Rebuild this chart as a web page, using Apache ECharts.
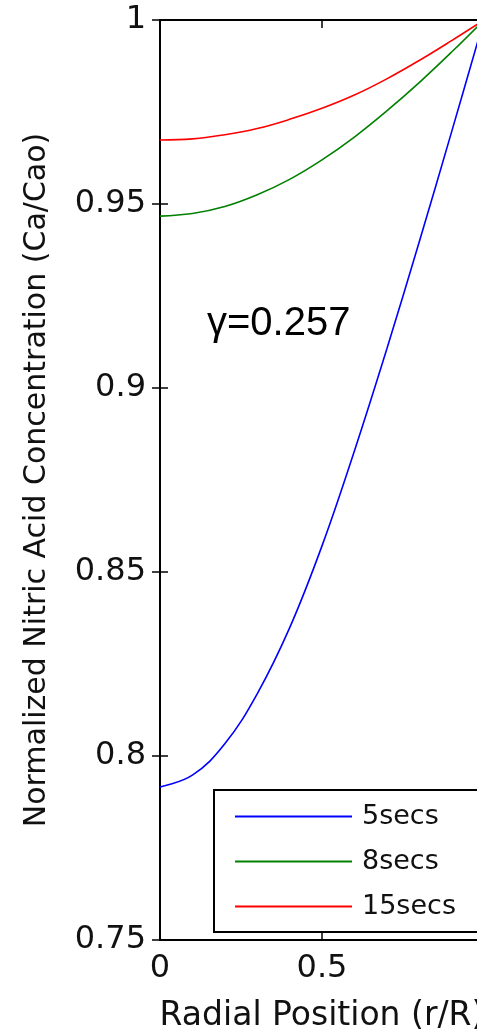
<!DOCTYPE html>
<html>
<head>
<meta charset="utf-8">
<script src="https://cdn.jsdelivr.net/npm/echarts@6/dist/echarts.min.js"></script>
<style>html,body{margin:0;padding:0;background:#fff}#c{width:477px;height:1031px}</style>
</head>
<body>
<div id="c"></div>
<script>
const radial = [0,0.1,0.2,0.3,0.4,0.5,0.6,0.7,0.8,0.9,1.0];
const s5  = [0.7916,0.7948,0.8033,0.8169,0.8348,0.8571,0.8829,0.9106,0.9397,0.9696,1.0];
const s8  = [0.9467,0.9474,0.9493,0.9525,0.9567,0.9620,0.9682,0.9753,0.9830,0.9913,1.0];
const s15 = [0.9674,0.9677,0.9688,0.9705,0.9730,0.9760,0.9796,0.9840,0.9890,0.9944,1.0];
const seriesNames = ['5secs','8secs','15secs'];
const seriesColors = ['#0000ff','#008000','#ff0000'];
const xTicks = [0,0.5,1];
const yTicks = [0.75,0.8,0.85,0.9,0.95,1];
const annotation = 'γ=0.257';
const xName = 'Radial Position (r/R)';
const yName = 'Normalized Nitric Acid Concentration (Ca/Cao)';

const FONT = 'DejaVu Sans';
const chart = echarts.init(document.getElementById('c'));
const pair = (xs, ys) => xs.map((x,i)=>[x, ys[i]]);
const allSeries = [s5, s8, s15];
const axisLine = {show:true, lineStyle:{color:'#000', width:2}};
const tick = {show:true, inside:true, length:8, lineStyle:{color:'#000', width:1.5}};
chart.setOption({
  animation:false,
  backgroundColor:'#fff',
  grid:{left:160, top:20, width:324, height:920, outerBoundsMode:'none', containLabel:false},
  legend:{
    orient:'vertical', left:214, top:790,
    padding:[13,80,12,21],
    borderColor:'#000', borderWidth:2, backgroundColor:'#fff',
    icon:'rect', itemWidth:117, itemHeight:2, itemGap:18,
    textStyle:{fontFamily:FONT, fontSize:27, color:'#111', padding:[0,0,0,5]},
    data:seriesNames
  },
  xAxis:[{
    type:'value', min:0, max:1, interval:0.5, position:'bottom',
    name:xName, nameLocation:'middle', nameGap:60,
    nameTextStyle:{fontFamily:FONT, fontSize:33, color:'#111'},
    axisLine:axisLine, splitLine:{show:false}, axisTick:tick,
    axisLabel:{fontFamily:FONT, fontSize:32, color:'#111', margin:13,
      formatter:v=> xTicks.includes(v) ? String(v) : ''}
  },{
    type:'value', min:0, max:1, interval:0.5, position:'top',
    axisLine:axisLine, splitLine:{show:false}, axisTick:tick,
    axisLabel:{show:false}
  }],
  yAxis:[{
    type:'value', min:0.75, max:1, interval:0.05, position:'left',
    name:yName, nameLocation:'middle', nameGap:108, nameRotate:90,
    nameTextStyle:{fontFamily:FONT, fontSize:30, color:'#111'},
    axisLine:axisLine, splitLine:{show:false}, axisTick:tick,
    axisLabel:{fontFamily:FONT, fontSize:32, color:'#111', margin:14,
      formatter:v=>{const t=yTicks.find(y=>Math.abs(y-v)<1e-9); return t===undefined?'':String(t);}}
  },{
    type:'value', min:0.75, max:1, interval:0.05, position:'right',
    axisLine:axisLine, splitLine:{show:false}, axisTick:tick,
    axisLabel:{show:false}
  }],
  series: seriesNames.map((n,i)=>({
    name:n, type:'line', smooth:0.4, symbol:'none',
    xAxisIndex:0, yAxisIndex:0,
    data:pair(radial, allSeries[i]),
    lineStyle:{color:seriesColors[i], width:1.6},
    itemStyle:{color:seriesColors[i]}
  })),
  graphic:[{
    type:'text', left:207, top:304,
    style:{text:annotation, font:'40px "Liberation Sans"', fill:'#000'}
  }]
});
</script>
</body>
</html>
